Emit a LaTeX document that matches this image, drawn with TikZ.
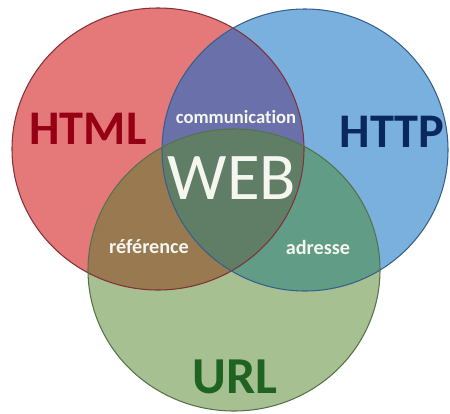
\documentclass[tikz,border=0pt]{standalone}
\usepackage{fontspec}
\setmainfont{Carlito}[Ligatures={NoCommon}]
\definecolor{cRed}{RGB}{229,121,122}
\definecolor{cBlue}{RGB}{122,176,222}
\definecolor{cGreen}{RGB}{166,192,146}
\definecolor{cRB}{RGB}{106,112,170}
\definecolor{cRG}{RGB}{152,121,80}
\definecolor{cBG}{RGB}{96,156,134}
\definecolor{cAll}{RGB}{96,126,102}
\definecolor{lRed}{RGB}{130,50,55}
\definecolor{lBlue}{RGB}{55,95,140}
\definecolor{lGreen}{RGB}{85,115,75}
\definecolor{tRed}{RGB}{150,0,20}
\definecolor{tBlue}{RGB}{10,40,94}
\definecolor{tGreen}{RGB}{30,100,32}
\definecolor{tWhite}{RGB}{246,246,240}
\tikzset{
  bigword/.style={font=\fontsize{27.5}{29}\selectfont\bfseries, inner sep=0pt},
  smallword/.style={font=\fontsize{11.5}{13}\selectfont\bfseries, text=tWhite, inner sep=0pt},
  webword/.style={font=\fontsize{38}{40}\selectfont, text=tWhite, inner sep=0pt},
  rim/.style={line width=0.6pt}
}
\begin{document}
\begin{tikzpicture}[x=0.02cm,y=-0.02cm]
\useasboundingbox (0,0) rectangle (450,413);
\def\redC{(158,149) ellipse [x radius=146, y radius=141]}
\def\blueC{(305,150) ellipse [x radius=143, y radius=141]}
\def\greenC{(234,270) ellipse [x radius=146, y radius=141]}
\fill[cRed] \redC;
\fill[cBlue] \blueC;
\fill[cGreen] \greenC;
\begin{scope}\clip \redC; \fill[cRB] \blueC; \fill[cRG] \greenC; \end{scope}
\begin{scope}\clip \blueC; \fill[cBG] \greenC; \end{scope}
\begin{scope}\clip \redC; \clip \blueC; \fill[cAll] \greenC; \end{scope}
\draw[rim, lRed] \redC;
\draw[rim, lBlue] \blueC;
\draw[rim, lGreen] \greenC;
\node[bigword, text=tRed] (html) at (88,129) {HTML};
\node[bigword, text=tBlue] (http) at (392,132) {HTTP};
\node[bigword, text=tGreen, font=\fontsize{29.5}{31}\selectfont\bfseries] (url) at (235,377) {URL};
\node[webword] (web) at (232,178) {WEB};
\node[smallword, font=\fontsize{10.6}{12}\selectfont\bfseries] (comm) at (236,117) {communication};
\node[smallword] (ref) at (149,247) {référence};
\node[smallword] (adr) at (318,247) {adresse};
\end{tikzpicture}
\end{document}
